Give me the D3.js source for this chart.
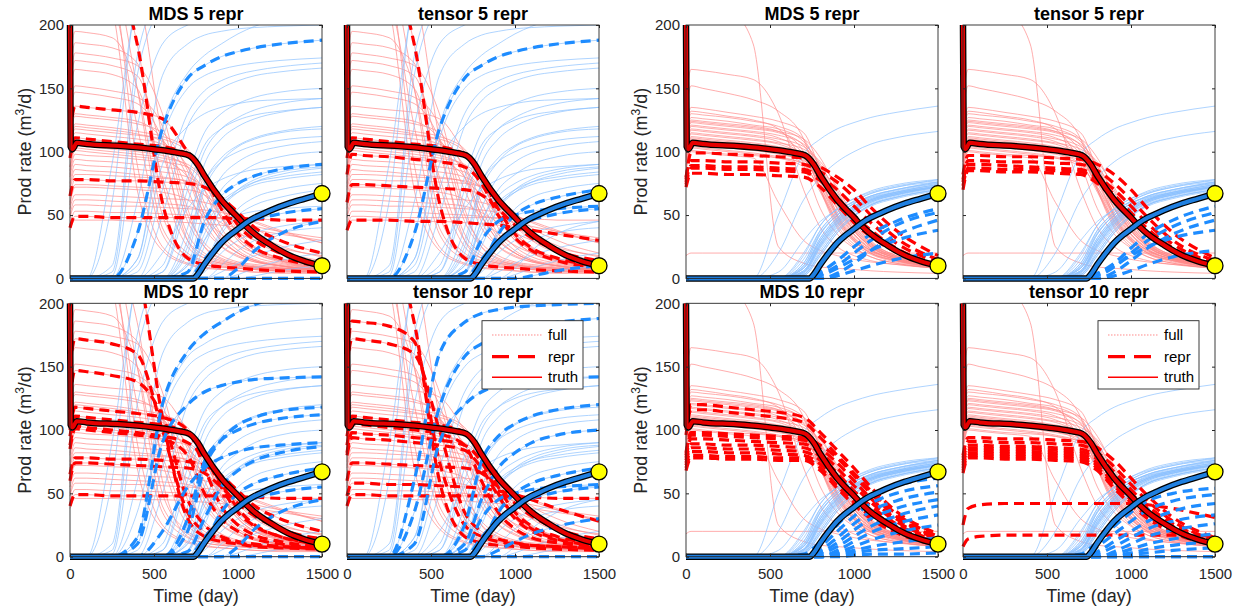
<!DOCTYPE html>
<html><head><meta charset="utf-8">
<script src="https://cdn.jsdelivr.net/npm/d3@7/dist/d3.min.js"></script>
<style>body{margin:0;background:#fff;} svg text{font-family:"Liberation Sans",Arial,Helvetica,sans-serif;}</style>
</head><body>
<svg id="c" width="1241" height="609"></svg>
<script>
// ---------------- DATA ----------------
const GRID = [0, 30, 100, 250, 400, 550, 700, 800, 900, 1000, 1100, 1250, 1500];

// left ensemble (panels in columns 1-2): oil rate (red) and water rate (blue) of each model
const LEFT_RED = [
 [220,250,250,240,150,40,18,13,10,8,7,6,5],
 [230,255,252,245,185,60,16,11,9,8,7,6,5],
 [240,270,268,262,230,110,30,16,12,10,8,7,6],
 [200,225,222,215,120,35,15,11,9,8,7,6,5],
 [170,195,194,190,150,50,20,14,11,9,8,7,6],
 [160,186,185,182,170,75,25,16,12,10,9,8,7],
 [150,172,171,168,160,100,35,20,14,11,9,8,6],
 [145,165,164,161,150,80,30,18,13,11,9,8,7],
 [130,152,151,148,143,120,50,28,18,13,11,9,7],
 [125,147,146,143,138,110,45,25,16,12,10,8,7],
 [115,136,135,133,131,126,100,82,63,42,30,20,12],
 [110,130,129,127,124,110,70,40,25,17,13,10,7],
 [112,128,127,125,122,115,85,50,30,20,14,10,7],
 [100,118,117,115,113,110,100,70,40,25,17,12,8],
 [98,115,114,112,110,106,88,55,32,20,14,10,7],
 [95,111,110,108,106,104,98,80,55,35,24,16,10],
 [95,120,119,117,114,108,80,45,26,18,13,10,7],
 [88,105,104,102,100,97,88,60,35,22,15,11,8],
 [82,98,97,96,94,92,88,75,50,32,22,14,9],
 [85,101,100,98,96,93,80,50,30,20,14,10,7],
 [80,94,93,92,90,88,84,70,48,30,20,13,8],
 [75,90,89,88,86,84,80,72,55,36,24,15,9],
 [72,86,85,84,82,80,76,66,48,32,22,14,8],
 [65,78,78,77,77,76,75,72,64,52,40,30,20],
 [60,74,74,73,72,71,70,66,55,42,32,22,14],
 [58,72,72,71,70,68,62,48,35,26,20,15,10],
 [48,58,58,57,57,56,55,54,52,49,45,38,28],
 [50,62,62,61,60,59,57,52,44,36,30,24,18],
 [40,49,49,48,48,48,48,48,48,47,47,46,46],
 [42,53,53,52,52,51,50,49,47,44,41,37,32],
 [38,46,46,46,45,45,44,43,42,40,38,35,30],
 [250,280,275,240,90,25,12,9,7,6,5,5,4],
 [235,262,258,215,70,22,11,8,7,6,5,4,4],
 [150,178,177,174,168,130,55,25,15,11,9,8,6],
 [100,122,121,119,116,112,102,78,48,30,20,14,9],
 [88,103,102,100,98,95,90,78,58,38,25,16,10],
 [70,82,82,81,80,79,77,72,62,48,36,26,17],
 [55,66,66,65,64,63,62,60,56,50,44,37,28]
];
const LEFT_BLUE = [
 [0,0,0,5,160,215,230,236,240,242,244,245,246],
 [0,0,0,0,35,118,158,168,175,179,182,185,188],
 [0,0,0,0,15,120,162,176,185,193,199,205,210],
 [0,0,0,10,175,225,238,244,247,249,250,251,252],
 [0,0,0,2,120,185,200,205,208,210,212,213,214],
 [0,0,0,0,60,160,185,192,195,197,198,199,200],
 [0,0,0,0,10,90,120,130,135,138,140,141,142],
 [0,0,0,0,15,110,150,160,165,168,170,172,174],
 [0,0,0,0,0,50,120,140,150,156,160,163,166],
 [0,0,0,0,0,20,55,70,78,83,86,88,90],
 [0,0,0,0,0,0,5,45,65,75,81,86,90],
 [0,0,0,0,0,10,80,115,130,138,143,147,150],
 [0,0,0,0,0,5,60,100,118,127,133,138,142],
 [0,0,0,0,0,0,20,70,92,104,110,115,118],
 [0,0,0,0,0,0,40,90,110,120,126,131,135],
 [0,0,0,0,0,0,0,15,30,40,46,51,55],
 [0,0,0,0,0,5,70,105,118,125,129,132,135],
 [0,0,0,0,0,0,25,75,95,105,111,116,120],
 [0,0,0,0,0,0,5,30,45,50,53,55,57],
 [0,0,0,0,0,0,30,75,92,100,105,109,112],
 [0,0,0,0,0,0,10,45,70,82,90,96,100],
 [0,0,0,0,0,0,0,25,55,70,78,84,88],
 [0,0,0,0,0,0,5,35,58,68,74,78,82],
 [0,0,0,0,0,0,0,0,0,8,22,35,45],
 [0,0,0,0,0,0,0,10,35,50,58,64,70],
 [0,0,0,0,0,0,10,40,60,70,76,80,84],
 [0,0,0,0,0,0,0,0,5,12,18,24,30],
 [0,0,0,0,0,0,0,5,20,30,36,41,45],
 [0,0,0,0,0,0,0,0,0,0,0,0,0],
 [0,0,0,0,0,0,0,0,0,3,8,14,20],
 [0,0,0,0,0,0,0,0,0,0,2,6,10],
 [0,0,0,60,220,245,250,252,253,254,255,255,255],
 [0,0,0,90,215,235,240,243,245,246,247,248,248],
 [0,0,0,0,5,70,130,148,156,161,164,167,170],
 [0,0,0,0,0,0,12,55,80,92,99,104,108],
 [0,0,0,0,0,0,4,30,55,68,76,82,87],
 [0,0,0,0,0,0,0,12,38,55,64,70,75],
 [0,0,0,0,0,0,0,0,10,22,30,36,40]
];
// representative models picked from the left ensemble (indices)
const LEFT_MDS5 = [1, 10, 15, 23, 28];
const LEFT_TENSOR5 = [1, 15, 18, 24, 30];
const LEFT_MDS10 = [2, 6, 9, 13, 15, 23, 24, 28, 19, 35];
const LEFT_TENSOR10 = [1, 5, 6, 17, 18, 20, 24, 26, 28, 15];

// right ensemble (panels in columns 3-4)
const RIGHT_RED = [
 [210,235,232,215,185,25,12,9,8,7,6,5,4],
 [140,165,164,161,157,130,70,40,25,18,14,11,8],
 [130,152,150,146,141,132,110,70,40,25,17,12,8],
 [115,135,134,131,128,124,115,85,50,30,20,14,9],
 [110,130,129,127,124,120,110,80,48,30,20,14,9],
 [108,127,126,124,121,118,108,88,60,38,25,16,10],
 [106,125,124,122,120,116,100,70,42,27,19,13,9],
 [105,123,122,120,118,115,105,82,55,35,23,15,10],
 [103,121,120,118,116,113,106,90,65,42,27,17,11],
 [102,120,119,117,115,111,98,70,45,30,21,14,9],
 [100,118,117,115,113,110,104,88,62,40,26,16,10],
 [100,117,116,114,112,108,96,75,50,32,22,15,10],
 [98,115,114,112,110,107,102,92,72,48,30,18,11],
 [97,114,113,111,109,106,95,72,48,32,22,15,10],
 [96,112,111,109,107,104,99,85,58,38,25,16,10],
 [95,111,110,108,106,103,92,68,44,29,20,14,9],
 [94,110,109,107,105,102,97,88,68,45,29,18,11],
 [93,109,108,106,104,101,94,76,52,35,24,16,10],
 [92,108,107,105,103,100,96,84,60,40,27,17,10],
 [92,107,106,104,102,99,90,70,46,31,22,15,9],
 [90,106,105,103,101,98,93,80,56,38,26,17,10],
 [89,104,103,101,99,96,90,78,55,37,25,16,10],
 [88,103,102,100,98,95,88,72,50,34,23,15,9],
 [86,101,100,98,97,95,91,82,62,42,28,18,11],
 [85,100,99,97,95,60,30,22,18,15,13,11,9],
 [18,20,20,20,20,20,20,20,20,20,20,20,20],
 [112,132,131,128,125,118,90,55,35,24,17,12,8],
 [106,124,123,121,119,116,110,95,70,45,28,17,10]
];
const RIGHT_BLUE = [
 [0,0,0,0,0,50,98,110,118,123,127,131,136],
 [0,0,0,0,0,20,62,80,92,100,106,111,116],
 [0,0,0,0,0,0,20,42,55,63,68,73,77],
 [0,0,0,0,0,0,15,38,52,61,67,72,76],
 [0,0,0,0,0,0,10,35,50,59,65,70,75],
 [0,0,0,0,0,0,5,28,45,55,62,68,74],
 [0,0,0,0,0,0,12,38,52,61,67,72,78],
 [0,0,0,0,0,0,6,30,47,57,64,69,75],
 [0,0,0,0,0,0,3,22,40,52,60,66,72],
 [0,0,0,0,0,0,10,35,50,59,65,70,76],
 [0,0,0,0,0,0,4,25,42,53,60,66,72],
 [0,0,0,0,0,0,8,32,48,57,63,68,74],
 [0,0,0,0,0,0,2,18,36,49,58,64,70],
 [0,0,0,0,0,0,8,30,46,56,62,67,73],
 [0,0,0,0,0,0,5,26,43,54,61,67,72],
 [0,0,0,0,0,0,12,36,50,59,65,70,76],
 [0,0,0,0,0,0,3,20,38,50,58,64,70],
 [0,0,0,0,0,0,6,28,45,55,62,67,73],
 [0,0,0,0,0,0,4,24,41,52,59,65,71],
 [0,0,0,0,0,0,9,32,48,57,63,68,74],
 [0,0,0,0,0,0,5,26,43,54,61,66,72],
 [0,0,0,0,0,0,6,27,44,54,61,66,72],
 [0,0,0,0,0,0,8,30,46,56,62,67,73],
 [0,0,0,0,0,0,3,20,38,50,58,64,70],
 [0,0,0,0,0,5,30,45,54,60,64,68,72],
 [0,0,0,0,0,0,0,0,0,0,0,0,0],
 [0,0,0,0,0,0,18,42,55,63,69,74,78],
 [0,0,0,0,0,0,2,18,36,49,57,63,69]
];
// representative models for the right group
const RIGHT_MDS5_RED = [
 [78,99,99,98,97,96,95,88,80,70,56,38,18],
 [80,93,93,92,92,91,90,84,76,64,50,32,15],
 [76,89,89,88,88,87,86,80,70,57,44,28,13],
 [74,87,87,86,86,85,84,77,64,50,38,24,11],
 [72,83,83,82,82,81,80,72,58,44,33,21,10]
];
const RIGHT_MDS5_BLUE = [
 [0,0,0,0,0,0,0,3,10,20,30,42,52],
 [0,0,0,0,0,0,0,5,14,25,35,45,55],
 [0,0,0,0,0,0,0,0,4,12,22,34,46],
 [0,0,0,0,0,0,0,2,8,15,22,30,38],
 [0,0,0,0,0,0,0,0,2,6,10,15,20]
];
const RIGHT_TENSOR5_RED = [
 [82,97,97,96,96,95,94,90,82,70,55,36,16],
 [78,93,93,92,92,91,90,85,75,62,48,30,14],
 [76,90,90,89,88,87,86,80,70,57,43,27,12],
 [73,87,87,86,86,85,84,78,66,52,39,24,11],
 [70,85,85,84,84,83,82,75,62,48,36,22,10]
];
const RIGHT_TENSOR5_BLUE = [
 [0,0,0,0,0,0,0,4,12,24,35,46,57],
 [0,0,0,0,0,0,0,2,9,20,30,41,52],
 [0,0,0,0,0,0,0,0,5,14,24,35,46],
 [0,0,0,0,0,0,0,3,10,18,25,32,38],
 [0,0,0,0,0,0,0,0,2,6,11,17,22]
];
const RIGHT_MDS10_RED = [
 [100,120,120,118,116,114,110,98,84,70,55,36,18],
 [96,116,116,114,112,110,106,94,80,66,52,34,16],
 [82,98,98,97,96,95,94,88,78,64,50,32,15],
 [80,96,96,95,94,93,92,85,74,60,46,30,14],
 [78,93,93,92,91,90,89,82,70,56,43,28,13],
 [76,89,89,88,88,87,86,79,66,52,40,26,12],
 [74,86,86,85,85,84,83,76,63,49,37,24,11],
 [72,83,83,82,82,81,80,73,60,46,35,22,11],
 [70,80,80,79,79,78,78,70,56,43,32,20,10],
 [68,78,78,77,77,76,76,68,54,41,30,19,9]
];
const RIGHT_MDS10_BLUE = [
 [0,0,0,0,0,0,2,12,25,38,48,56,62],
 [0,0,0,0,0,0,0,8,20,32,42,50,56],
 [0,0,0,0,0,0,0,5,15,26,36,44,51],
 [0,0,0,0,0,0,0,3,11,21,30,38,45],
 [0,0,0,0,0,0,0,2,8,16,24,32,40],
 [0,0,0,0,0,0,0,0,5,12,19,26,33],
 [0,0,0,0,0,0,0,0,3,8,13,19,25],
 [0,0,0,0,0,0,0,0,2,5,8,11,15],
 [0,0,0,0,0,0,0,0,1,3,5,6,8],
 [0,0,0,0,0,0,0,0,0,1,2,2,3]
];
const RIGHT_TENSOR10_RED = [
 [80,94,94,93,93,92,91,86,76,62,48,31,15],
 [78,91,91,90,90,89,88,82,71,57,44,28,13],
 [76,88,88,87,87,86,85,79,67,53,40,26,12],
 [74,86,86,85,85,84,83,77,64,50,38,24,11],
 [72,84,84,83,83,82,81,74,61,47,36,23,11],
 [70,82,82,81,81,80,79,72,58,45,34,21,10],
 [68,80,80,79,79,78,77,70,56,43,32,20,10],
 [66,78,78,77,77,76,75,68,54,41,30,19,9],
 [25,38,41,42,42,42,42,42,42,42,41,38,31],
 [8,14,16,17,17,17,17,17,17,17,17,17,16]
];
const RIGHT_TENSOR10_BLUE = [
 [0,0,0,0,0,0,2,12,24,35,44,50,54],
 [0,0,0,0,0,0,0,8,18,28,37,44,49],
 [0,0,0,0,0,0,0,4,12,20,28,36,42],
 [0,0,0,0,0,0,0,2,8,15,22,28,33],
 [0,0,0,0,0,0,0,0,4,10,16,21,26],
 [0,0,0,0,0,0,0,0,2,6,10,14,18],
 [0,0,0,0,0,0,0,0,1,3,6,9,12],
 [0,0,0,0,0,0,0,0,0,2,3,5,7],
 [0,0,0,0,0,0,0,0,0,0,0,0,0],
 [0,0,0,0,0,0,0,0,0,0,0,0,0]
];

// truth (same in every panel)
const TRUTH_RED_T = [0, 4, 15, 40, 100, 300, 500, 650, 710, 760, 800, 900, 1000, 1050, 1100, 1200, 1300, 1400, 1500];
const TRUTH_RED_V = [200, 104, 102, 107, 106, 104.5, 102, 99, 97, 90, 81, 62, 48, 41, 35, 26, 18.5, 13.5, 10];
const TRUTH_BLUE_T = [0, 735, 760, 800, 850, 900, 950, 1000, 1050, 1100, 1150, 1200, 1300, 1400, 1500];
const TRUTH_BLUE_V = [0, 0, 3, 11, 20, 28, 34, 39, 44, 48, 51, 54, 59, 63, 67];

const Y_TICKS = [0, 50, 100, 150, 200];
const X_TICKS = [0, 500, 1000, 1500];
const TITLES = ["MDS 5 repr", "tensor 5 repr", "MDS 5 repr", "tensor 5 repr",
                "MDS 10 repr", "tensor 10 repr", "MDS 10 repr", "tensor 10 repr"];
const LEGEND_LABELS = ["full", "repr", "truth"];

// ---------------- DRAW ----------------
const svg = d3.select("#c");
const W = 252, H = 253.4;
const LEFTS = [70, 347, 686, 963], TOPS = [25, 303.3];
const C = {fullRed:"#ff8a8a", fullBlue:"#8cc2ff", red:"#ff0000", blue:"#1e8cff",
           truthRed:"#e60000", truthBlue:"#1f7fe0", axis:"#262626"};

const x = d3.scaleLinear().domain([0, 1500]).range([0, W]);
const y = d3.scaleLinear().domain([0, 200]).range([H, 0]);
const gridLine = d3.line().x((d, i) => x(GRID[i])).y(d => y(d)).curve(d3.curveMonotoneX);
const ptLine = d3.line().x(d => x(d[0])).y(d => y(d[1])).curve(d3.curveMonotoneX);
const truthRed = TRUTH_RED_T.map((t, i) => [t, TRUTH_RED_V[i]]);
const truthBlue = TRUTH_BLUE_T.map((t, i) => [t, TRUTH_BLUE_V[i]]);

function panelData(i) {
  const col = i % 4, row = i < 4 ? 0 : 1;
  if (col < 2) {
    const idx = [LEFT_MDS5, LEFT_TENSOR5, null, null, LEFT_MDS10, LEFT_TENSOR10][row * 4 + col];
    return {fullR: LEFT_RED, fullB: LEFT_BLUE, reprR: idx.map(k => LEFT_RED[k]), reprB: idx.map(k => LEFT_BLUE[k])};
  }
  const sets = {2: [RIGHT_MDS5_RED, RIGHT_MDS5_BLUE], 3: [RIGHT_TENSOR5_RED, RIGHT_TENSOR5_BLUE],
                6: [RIGHT_MDS10_RED, RIGHT_MDS10_BLUE], 7: [RIGHT_TENSOR10_RED, RIGHT_TENSOR10_BLUE]}[i];
  return {fullR: RIGHT_RED, fullB: RIGHT_BLUE, reprR: sets[0], reprB: sets[1]};
}

for (let i = 0; i < 8; i++) {
  const col = i % 4, row = i < 4 ? 0 : 1;
  const g = svg.append("g").attr("transform", `translate(${LEFTS[col]},${TOPS[row]})`);
  const D = panelData(i);
  const cid = "clip" + i;
  g.append("clipPath").attr("id", cid).append("rect")
    .attr("x", -4).attr("y", 0).attr("width", W + 8).attr("height", H + 4);
  const pg = g.append("g").attr("clip-path", `url(#${cid})`);

  pg.selectAll(".fr").data(D.fullR).join("path").attr("d", gridLine)
    .attr("fill", "none").attr("stroke", C.fullRed).attr("stroke-width", 0.7);
  pg.selectAll(".fb").data(D.fullB).join("path").attr("d", gridLine)
    .attr("fill", "none").attr("stroke", C.fullBlue).attr("stroke-width", 0.7);
  pg.append("g").selectAll("path").data(D.reprR).join("path").attr("d", gridLine)
    .attr("fill", "none").attr("stroke", C.red).attr("stroke-width", 3.2).attr("stroke-dasharray", "10,6");
  pg.append("g").selectAll("path").data(D.reprB).join("path").attr("d", gridLine)
    .attr("fill", "none").attr("stroke", C.blue).attr("stroke-width", 3.2).attr("stroke-dasharray", "10,6");

  [[truthRed, C.truthRed], [truthBlue, C.truthBlue]].forEach(([d, col2]) => {
    pg.append("path").attr("d", ptLine(d)).attr("fill", "none").attr("stroke", "#000")
      .attr("stroke-width", 6.5).attr("stroke-linejoin", "round");
    pg.append("path").attr("d", ptLine(d)).attr("fill", "none").attr("stroke", col2)
      .attr("stroke-width", 4).attr("stroke-linejoin", "round");
  });

  // box
  g.append("rect").attr("width", W).attr("height", H).attr("fill", "none")
    .attr("stroke", C.axis).attr("stroke-width", 0.9);

  const showY = col === 0 || col === 2, showX = row === 1;
  const styleAxis = a => { a.select(".domain").remove(); a.attr("color", C.axis)
      .attr("font-family", "Liberation Sans, Arial, sans-serif").attr("font-size", 15); };
  g.append("g").call(d3.axisLeft(y).tickValues(Y_TICKS).tickSize(-3).tickPadding(6)
      .tickFormat(showY ? d3.format("d") : () => "")).call(styleAxis);
  g.append("g").attr("transform", `translate(${W},0)`)
    .call(d3.axisRight(y).tickValues(Y_TICKS).tickSize(-3).tickFormat(() => "")).call(styleAxis);
  g.append("g").attr("transform", `translate(0,${H})`)
    .call(d3.axisBottom(x).tickValues(X_TICKS).tickSize(-3).tickPadding(12)
      .tickFormat(showX ? d3.format("d") : () => "")).call(styleAxis);
  g.append("g").call(d3.axisTop(x).tickValues(X_TICKS).tickSize(-3).tickFormat(() => "")).call(styleAxis);

  // end markers
  [TRUTH_RED_V[TRUTH_RED_V.length - 1], TRUTH_BLUE_V[TRUTH_BLUE_V.length - 1]].forEach(v => {
    g.append("circle").attr("cx", x(1500)).attr("cy", y(v)).attr("r", 8)
      .attr("fill", "#ffff00").attr("stroke", "#000").attr("stroke-width", 1.3);
  });

  // title
  g.append("text").attr("x", W / 2).attr("y", -5).attr("text-anchor", "middle")
    .attr("font-size", 18).attr("font-weight", "bold").attr("fill", "#000").text(TITLES[i]);

  if (showY) {
    const t = g.append("text").attr("transform", `translate(-39,${H / 2}) rotate(-90)`)
      .attr("text-anchor", "middle").attr("font-size", 18).attr("fill", C.axis);
    t.append("tspan").text("Prod rate (m");
    t.append("tspan").attr("dy", -7).attr("font-size", 12).text("3");
    t.append("tspan").attr("dy", 7).text("/d)");
  }
  if (showX) {
    g.append("text").attr("x", W / 2).attr("y", H + 45).attr("text-anchor", "middle")
      .attr("font-size", 18).attr("fill", C.axis).text("Time (day)");
  }

  if (i === 5 || i === 7) {
    const lg = g.append("g").attr("transform", "translate(135,17.4)");
    lg.append("rect").attr("width", 101).attr("height", 68.3).attr("fill", "#fff")
      .attr("stroke", C.axis).attr("stroke-width", 0.9);
    const rows = [14.3, 36, 56.5];
    const styles = [
      {stroke: C.fullRed, w: 1, dash: "1.5,1.5"},
      {stroke: C.red, w: 3.2, dash: "17,9"},
      {stroke: C.red, w: 1.6, dash: null}
    ];
    LEGEND_LABELS.forEach((lab, k) => {
      lg.append("line").attr("x1", 10).attr("x2", 60).attr("y1", rows[k]).attr("y2", rows[k])
        .attr("stroke", styles[k].stroke).attr("stroke-width", styles[k].w)
        .attr("stroke-dasharray", styles[k].dash);
      lg.append("text").attr("x", 66).attr("y", rows[k]).attr("dy", "0.35em")
        .attr("font-size", 15).attr("fill", "#000").text(lab);
    });
  }
}
</script>
</body></html>
